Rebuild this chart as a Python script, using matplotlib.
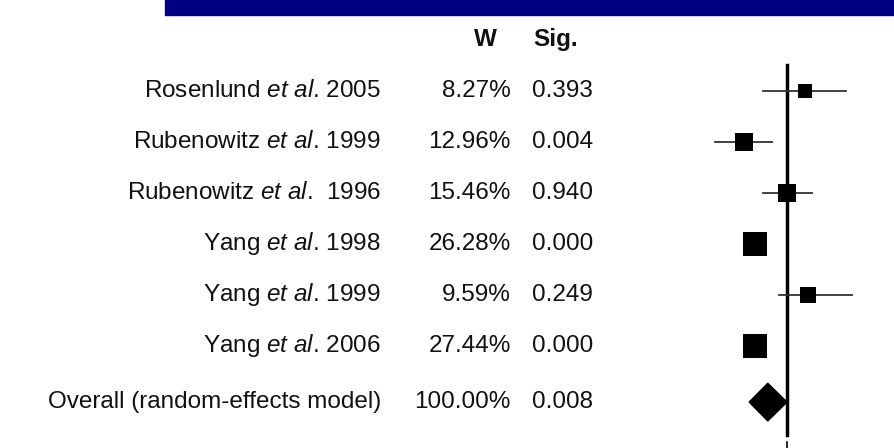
import numpy as np
import matplotlib
matplotlib.use('Agg')
import matplotlib.pyplot as plt
from matplotlib.patches import Polygon, Rectangle
from matplotlib.transforms import blended_transform_factory

plt.rcParams['font.family'] = ['Liberation Sans', 'DejaVu Sans']
plt.rcParams['mathtext.fontset'] = 'custom'
plt.rcParams['mathtext.rm'] = 'Liberation Sans'
plt.rcParams['mathtext.it'] = 'Liberation Sans:italic'

# Study data (effect on log scale)
studies = [r'Rosenlund $\mathit{et\ al}$. 2005',
           r'Rubenowitz $\mathit{et\ al}$. 1999',
           r'Rubenowitz $\mathit{et\ al}$.  1996',
           r'Yang $\mathit{et\ al}$. 1998',
           r'Yang $\mathit{et\ al}$. 1999',
           r'Yang $\mathit{et\ al}$. 2006']
weights = [8.27, 12.96, 15.46, 26.28, 9.59, 27.44]
weight_labels = ['8.27%', '12.96%', '15.46%', '26.28%', '9.59%', '27.44%']
sig_labels = ['0.393', '0.004', '0.940', '0.000', '0.249', '0.000']
estimates = [0.30, -0.72, 0.00, -0.53, 0.35, -0.53]
ci_low = [-0.40, -1.20, -0.40, -0.58, -0.13, -0.58]
ci_high = [0.98, -0.25, 0.42, -0.48, 1.08, -0.48]

overall_label = 'Overall (random-effects model)'
overall_weight = '100.00%'
overall_sig = '0.008'
overall_est = -0.32
overall_low = -0.63
overall_high = 0.0

fig = plt.figure(figsize=(8.95, 4.48), dpi=100)
ax = fig.add_axes([0, 0, 1, 1])
ax.set_xlim(-13.117, 1.8)
ax.set_ylim(7.0, -1.784)
ax.axis('off')

# blue band at top
fig.patches.append(Rectangle((165 / 895, 1 - 15 / 448), 1, 15 / 448,
                             transform=fig.transFigure, color='#000080', zorder=0))

trans = blended_transform_factory(ax.transAxes, ax.transData)
fs = 17.5
txt_color = '#111111'

rows = np.arange(len(studies))
overall_row = 6.1

# headers
ax.text(485 / 895, -1.0, 'W', transform=trans, ha='center', va='center',
        fontsize=fs, fontweight='bold', color=txt_color)
ax.text(533 / 895, -1.0, 'Sig.', transform=trans, ha='left', va='center',
        fontsize=fs, fontweight='bold', color=txt_color)

for i in rows:
    ax.text(381 / 895, i, studies[i], transform=trans, ha='right', va='center',
            fontsize=fs, color=txt_color)
    ax.text(511 / 895, i, weight_labels[i], transform=trans, ha='right', va='center',
            fontsize=fs, color=txt_color)
    ax.text(532 / 895, i, sig_labels[i], transform=trans, ha='left', va='center',
            fontsize=fs, color=txt_color)
    # confidence interval
    ax.plot([ci_low[i], ci_high[i]], [i, i], color='#333333', lw=1.3, zorder=2)
    # square sized by weight
    size_px = 11 + 0.47 * weights[i]
    ax.plot(estimates[i], i, marker='s', color='black', ms=size_px * 0.72,
            mec='black', mew=0, zorder=3)

ax.text(381 / 895, overall_row, overall_label, transform=trans, ha='right', va='center',
        fontsize=fs, color=txt_color)
ax.text(511 / 895, overall_row, overall_weight, transform=trans, ha='right', va='center',
        fontsize=fs, color=txt_color)
ax.text(532 / 895, overall_row, overall_sig, transform=trans, ha='left', va='center',
        fontsize=fs, color=txt_color)

h = 0.37
diamond = Polygon([(overall_low, overall_row), (overall_est, overall_row - h),
                   (overall_high, overall_row), (overall_est, overall_row + h)],
                  closed=True, color='black', zorder=3)
ax.add_patch(diamond)

# line of no effect
ax.plot([0, 0], [-0.51, 6.75], color='black', lw=2.5, zorder=1)
ax.plot([0, 0], [6.88, 7.0], color='black', lw=1.2, zorder=1)

fig.savefig('out.png', dpi=100)
